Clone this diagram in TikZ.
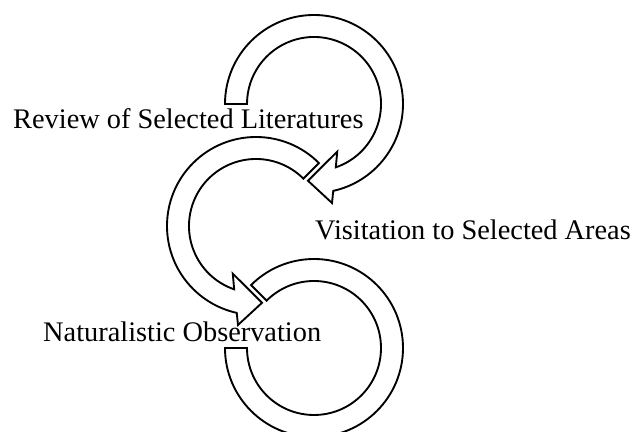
\documentclass[tikz,border=0pt]{standalone}
\usepackage{fontspec}
\setmainfont{Liberation Serif}

% hollow ring arrow, turning clockwise from angle #2 to its head
\newcommand{\ringarrow}[2][]{%
  \draw [band, #1] (#2:89) arc [start angle=#2, end angle=-77.5, radius=89]
    -- (-79.7:100.6) -- (-94.5:77) -- (-64:53) -- (-71:67)
    arc [start angle=-71, end angle=#2, radius=67] -- cycle;}

\begin{document}
\begin{tikzpicture}[x=0.03cm, y=0.03cm,
    band/.style={draw, line width=1.6pt, fill=white, line join=miter},
    stage/.style={inner sep=0pt, anchor=base west, font=\fontsize{24.2}{28}\selectfont}]
  \useasboundingbox (0, 0) rectangle (633, 432);
  \clip (0, 0) rectangle (633, 432);
  \ringarrow[shift={(314, 328)}]{180}
  \ringarrow[shift={(256, 206)}, xscale=-1]{135}
  \draw [band, shift={(314, 84)}] (180:89) arc [start angle=180, end angle=495, radius=89]
    -- (135:67) arc [start angle=135, end angle=-180, radius=67] -- cycle;
  \node [stage] (review) at (13, 303) {Review of Selected Literatures};
  \node [stage] (visit) at (315, 192) {Visitation to Selected Areas};
  \node [stage] (observe) at (43, 90) {Naturalistic Observation};
\end{tikzpicture}
\end{document}
